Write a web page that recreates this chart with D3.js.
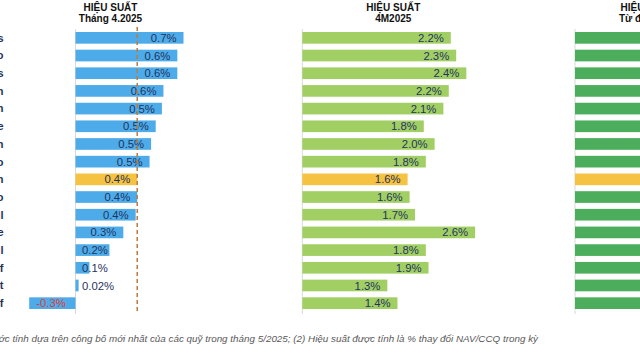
<!DOCTYPE html>
<html><head><meta charset="utf-8">
<script src="https://cdn.jsdelivr.net/npm/d3@7/dist/d3.min.js"></script>
<style>
html,body{margin:0;padding:0;background:#fff;overflow:hidden;}
svg{display:block;font-family:"Liberation Sans",Arial,sans-serif;}
</style></head>
<body>
<script>
// visible fragments of the (clipped) fund names
const categories = ["s","o","s","n","n","e","n","o","n","o","l","e","l","f","t","f"];
const highlightIndex = 8; // average row
const perfApr = [0.70,0.66,0.66,0.57,0.56,0.52,0.49,0.48,0.40,0.40,0.39,0.31,0.22,0.09,0.02,-0.30];
const labelsApr = ["0.7%","0.6%","0.6%","0.6%","0.5%","0.5%","0.5%","0.5%","0.4%","0.4%","0.4%","0.3%","0.2%","0.1%","0.02%","-0.3%"];
const perf4M = [2.20,2.28,2.43,2.17,2.09,1.80,1.96,1.83,1.56,1.59,1.67,2.56,1.83,1.87,1.26,1.41];
const labels4M = ["2.2%","2.3%","2.4%","2.2%","2.1%","1.8%","2.0%","1.8%","1.6%","1.6%","1.7%","2.6%","1.8%","1.9%","1.3%","1.4%"];
const perf3 = [12,12,12,12,12,12,12,12,12,12,12,12,12,12,12,12];
const averageApr = 0.40;
const titles = [["HIỆU SUẤT","Tháng 4.2025"],["HIỆU SUẤT","4M2025"],["HIỆU SUẤT","Từ đầu năm"]];
const footnote = "(1) Ước tính dựa trên công bố mới nhất của các quỹ trong tháng 5/2025; (2) Hiệu suất được tính là % thay đổi NAV/CCQ trong kỳ";

const W=640,H=360;
const svg=d3.select("body").append("svg").attr("width",W).attr("height",H);
const y=d3.scaleBand().domain(d3.range(categories.length)).range([29,312]).paddingInner(0.34).paddingOuter(0.17);

const navy="#1f3460";
const x1=d3.scaleLinear().domain([0,0.7]).range([75.5,183.5]);
const x2=d3.scaleLinear().domain([0,2.2]).range([302.3,450.8]);
const x3=d3.scaleLinear().domain([0,2.2]).range([575,723]);

// category labels
svg.append("g").selectAll("text").data(categories).join("text")
  .attr("x",3.5).attr("y",(d,i)=>y(i)+y.bandwidth()/2).attr("dy","0.35em")
  .attr("text-anchor","end").attr("font-size",11).attr("font-weight","bold")
  .attr("fill",navy).text(d=>d);

function panel(x,vals,labels,color,showLabels){
  const g=svg.append("g");
  const x0=x(0);
  g.append("line").attr("x1",x0).attr("x2",x0).attr("y1",29).attr("y2",314)
    .attr("stroke","#d9d9d9").attr("stroke-width",1);
  g.selectAll("rect").data(vals).join("rect")
    .attr("x",d=>Math.min(x(0),x(d))).attr("width",d=>Math.abs(x(d)-x(0)))
    .attr("y",(d,i)=>y(i)).attr("height",y.bandwidth())
    .attr("fill",(d,i)=>i===highlightIndex?"#f5c242":color);
  if(!showLabels) return g;
  const t=g.selectAll("text").data(vals).join("text")
    .attr("y",(d,i)=>y(i)+y.bandwidth()/2).attr("dy","0.36em")
    .attr("font-size",11.3).attr("fill",d=>d<0?"#e03c31":navy)
    .text((d,i)=>labels[i]);
  t.each(function(d){
    const w=this.getComputedTextLength();
    let sx;
    if(d<0){ sx=x(d)+7; }
    else { sx=x(d)-7-w; if(sx<x0+6.5) sx=x0+6.5; }
    d3.select(this).attr("x",sx);
  });
  return g;
}
panel(x1,perfApr,labelsApr,"#4dabe9",true);
panel(x2,perf4M,labels4M,"#a2cf63",true);
panel(x3,perf3,null,"#4cae5c",false);

// average dashed line
svg.append("line").attr("x1",x1(averageApr)).attr("x2",x1(averageApr))
  .attr("y1",27).attr("y2",313).attr("stroke","#c07a3c").attr("stroke-width",1.5)
  .attr("stroke-dasharray","4,3");

// titles
const titleX=[110.5,393.3,647.5];
titles.forEach((tt,k)=>{
  tt.forEach((s,j)=>{
    svg.append("text").attr("x",titleX[k]).attr("y",10.5+j*11.5)
      .attr("text-anchor","middle").attr("font-size",10).attr("font-weight","bold")
      .attr("fill","#111").text(s);
  });
});

svg.append("text").attr("x",538).attr("y",342).attr("text-anchor","end")
  .attr("font-size",9.85).attr("font-style","italic").attr("fill","#595959").text(footnote);
</script>
</body></html>
